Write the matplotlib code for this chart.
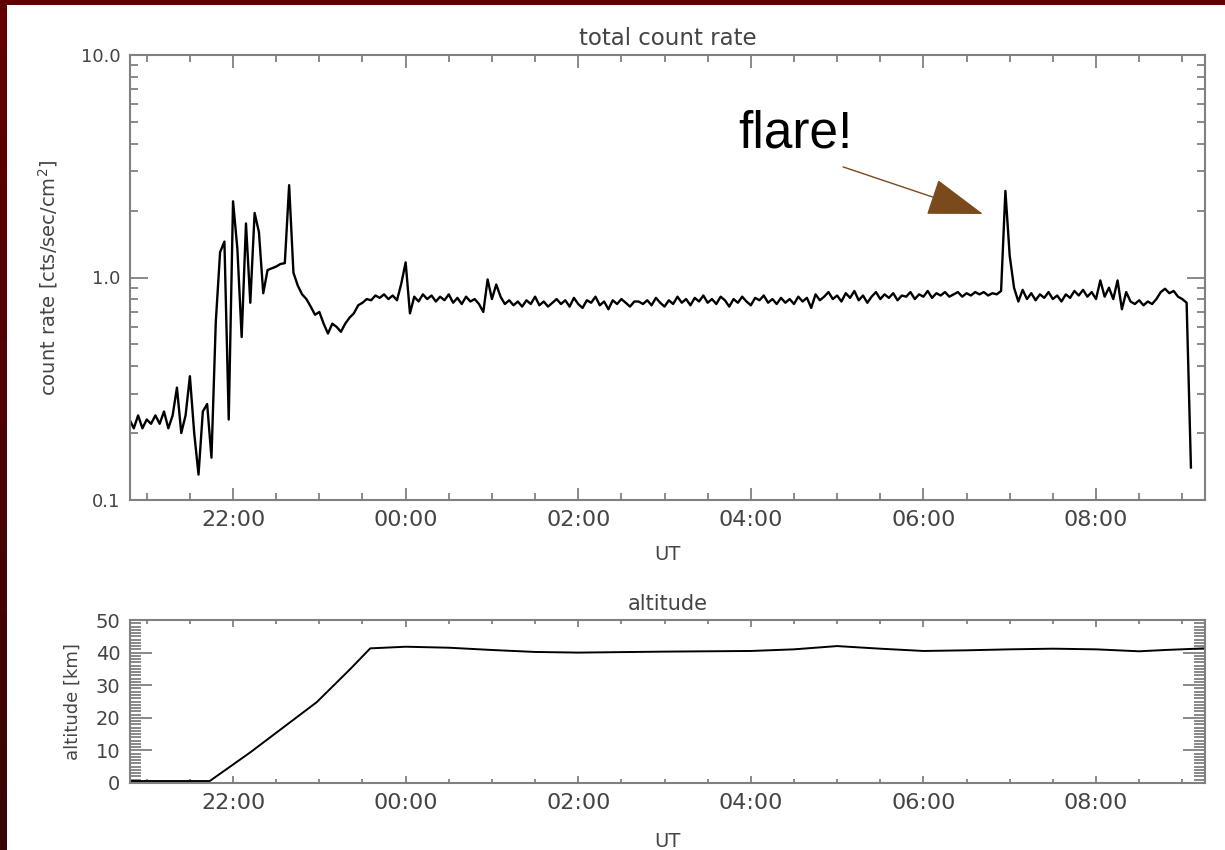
import numpy as np
import matplotlib
matplotlib.use("Agg")
import matplotlib.pyplot as plt
from matplotlib.ticker import FixedLocator, MultipleLocator, FuncFormatter, NullFormatter

# count rate, one sample every 3 min starting 20:48 UT (hours relative to 00:00)
rate_t0 = -3.2
rate_dt = 0.05
rate = [
    0.23, 0.21, 0.24, 0.21, 0.23, 0.22, 0.24, 0.22, 0.25, 0.21,
    0.24, 0.32, 0.20, 0.24, 0.36, 0.20, 0.13, 0.25, 0.27, 0.155,
    0.63, 1.30, 1.45, 0.23, 2.20, 1.35, 0.54, 1.75, 0.77, 1.95,
    1.60, 0.85, 1.08, 1.10, 1.12, 1.15, 1.16, 2.60, 1.05, 0.92,
    0.84, 0.80, 0.74, 0.68, 0.70, 0.62, 0.56, 0.62, 0.60, 0.57,
    0.62, 0.66, 0.69, 0.75, 0.77, 0.80, 0.79, 0.83, 0.81, 0.84,
    0.80, 0.83, 0.79, 0.94, 1.17, 0.69, 0.82, 0.78, 0.84, 0.80,
    0.83, 0.78, 0.82, 0.79, 0.84, 0.77, 0.81, 0.76, 0.82, 0.78,
    0.80, 0.76, 0.70, 0.98, 0.80, 0.93, 0.82, 0.76, 0.79, 0.75,
    0.78, 0.74, 0.79, 0.76, 0.82, 0.75, 0.78, 0.74, 0.77, 0.80,
    0.76, 0.79, 0.74, 0.81, 0.76, 0.73, 0.79, 0.77, 0.82, 0.75,
    0.78, 0.72, 0.79, 0.76, 0.80, 0.77, 0.74, 0.78, 0.78, 0.76,
    0.79, 0.75, 0.81, 0.77, 0.74, 0.79, 0.76, 0.82, 0.77, 0.80,
    0.75, 0.81, 0.78, 0.83, 0.77, 0.80, 0.76, 0.82, 0.79, 0.74,
    0.80, 0.77, 0.82, 0.78, 0.75, 0.81, 0.79, 0.83, 0.77, 0.80,
    0.76, 0.81, 0.77, 0.80, 0.76, 0.82, 0.78, 0.81, 0.73, 0.84,
    0.79, 0.82, 0.86, 0.80, 0.83, 0.78, 0.85, 0.81, 0.87, 0.79,
    0.83, 0.77, 0.82, 0.86, 0.80, 0.84, 0.81, 0.85, 0.79, 0.83,
    0.82, 0.86, 0.80, 0.84, 0.82, 0.87, 0.81, 0.85, 0.83, 0.86,
    0.82, 0.84, 0.86, 0.82, 0.85, 0.83, 0.86, 0.84, 0.86, 0.83,
    0.85, 0.84, 0.87, 2.45, 1.25, 0.90, 0.78, 0.88, 0.80, 0.85,
    0.79, 0.84, 0.81, 0.86, 0.80, 0.83, 0.78, 0.84, 0.81, 0.87,
    0.83, 0.88, 0.82, 0.86, 0.80, 0.97, 0.82, 0.90, 0.80, 0.97,
    0.72, 0.86, 0.78, 0.76, 0.79, 0.75, 0.78, 0.76, 0.80, 0.86,
    0.89, 0.85, 0.87, 0.82, 0.80, 0.77, 0.14,
]

# altitude profile
alt_t = [-3.2, -2.27, -1.80, -1.42, -1.03, -0.64, -0.41, 0.0, 0.5, 1.0,
         1.5, 2.0, 3.0, 4.0, 4.5, 5.0, 5.5, 6.0, 6.5, 7.0,
         7.5, 8.0, 8.5, 8.8, 9.26]
alt_km = [0.6, 0.6, 9.4, 17, 24.8, 35, 41.3, 41.8, 41.5, 40.8,
          40.2, 40.0, 40.3, 40.5, 41.0, 42.0, 41.2, 40.5, 40.7, 41.0,
          41.2, 41.0, 40.4, 40.8, 41.3]

flare_tip = (6.69, 1.93)
flare_tail = (5.07, 3.14)
flare_text = (4.52, 4.4)

rate_t = rate_t0 + rate_dt * np.arange(len(rate))

grey = "#808080"
txt = "#444444"
plt.rcParams["font.family"] = "DejaVu Sans"

fig = plt.figure(figsize=(12.25, 8.5), dpi=100)
fig.patch.set_facecolor("white")

# dark red frame on top and left
strip = fig.add_axes([0, 0, 7 / 1225, 1])
strip.imshow(np.linspace(0, 1, 100).reshape(-1, 1), aspect="auto",
             cmap=matplotlib.colors.LinearSegmentedColormap.from_list("r", ["#620000", "#3a0505"]))
strip.axis("off")
top_strip = fig.add_axes([0, 1 - 5 / 850, 1, 5 / 850])
top_strip.set_facecolor("#620000")
top_strip.set_xticks([])
top_strip.set_yticks([])
for s in top_strip.spines.values():
    s.set_visible(False)

xmin, xmax = -3.194, 9.263
hour_fmt = FuncFormatter(lambda h, pos: "%02d:00" % (int(round(h)) % 24))


def style_axes(ax, xmaj, xmin_len, ymaj, ymin_len):
    for s in ax.spines.values():
        s.set_color(grey)
        s.set_linewidth(1.5)
    ax.tick_params(which="both", direction="in", top=True, right=True, colors=grey, labelcolor=txt, width=1.3)
    ax.tick_params(axis="x", which="major", length=xmaj, pad=7, labelsize=16)
    ax.tick_params(axis="x", which="minor", length=xmin_len)
    ax.tick_params(axis="y", which="major", length=ymaj, pad=7, labelsize=13)
    ax.tick_params(axis="y", which="minor", length=ymin_len)
    ax.xaxis.set_major_locator(MultipleLocator(2))
    ax.xaxis.set_minor_locator(MultipleLocator(0.5))
    ax.xaxis.set_major_formatter(hour_fmt)
    ax.set_xlim(xmin, xmax)


# top panel: count rate
ax1 = fig.add_axes([130 / 1225, 1 - 500 / 850, 1075 / 1225, 445 / 850])
ax1.plot(rate_t, rate, color="black", lw=1.7)
ax1.set_yscale("log")
ax1.set_ylim(0.1, 10)
style_axes(ax1, 9, 5, 13, 6)
ax1.yaxis.set_major_locator(FixedLocator([0.1, 1.0, 10.0]))
ax1.yaxis.set_major_formatter(FuncFormatter(lambda v, pos: "%.1f" % v))
ax1.yaxis.set_minor_locator(FixedLocator([m * d for d in (0.1, 1.0) for m in range(2, 10)]))
ax1.yaxis.set_minor_formatter(NullFormatter())
ax1.set_title("total count rate", fontsize=16.5, color=txt, pad=7)
ax1.set_xlabel("UT", fontsize=14, color=txt, labelpad=11)
ax1.set_ylabel("count rate [cts/sec/cm$^2$]", fontsize=14, color=txt, labelpad=15)

ax1.annotate("", xy=flare_tip, xytext=flare_tail,
             arrowprops=dict(arrowstyle="-|>,head_length=1.8,head_width=0.6", mutation_scale=20,
                             color="#7b4a1c", lw=1, shrinkA=0, shrinkB=0))
ax1.text(flare_text[0], flare_text[1], "flare!", fontsize=37, family="Liberation Sans",
         ha="center", va="center", color="black")

# bottom panel: altitude
ax2 = fig.add_axes([130 / 1225, 1 - 783 / 850, 1075 / 1225, 163 / 850])
ax2.plot(alt_t, alt_km, color="black", lw=1.4)
ax2.set_ylim(0, 50)
style_axes(ax2, 5, 3, 16, 8)
ax2.yaxis.set_major_locator(MultipleLocator(10))
ax2.yaxis.set_minor_locator(MultipleLocator(1))
ax2.tick_params(axis="y", which="major", labelsize=14)
ax2.set_title("altitude", fontsize=15, color=txt, pad=7)
ax2.set_xlabel("UT", fontsize=14, color=txt, labelpad=14)
ax2.set_ylabel("altitude [km]", fontsize=13, color=txt, labelpad=10)

fig.savefig("out.png", dpi=100, facecolor=fig.get_facecolor())
